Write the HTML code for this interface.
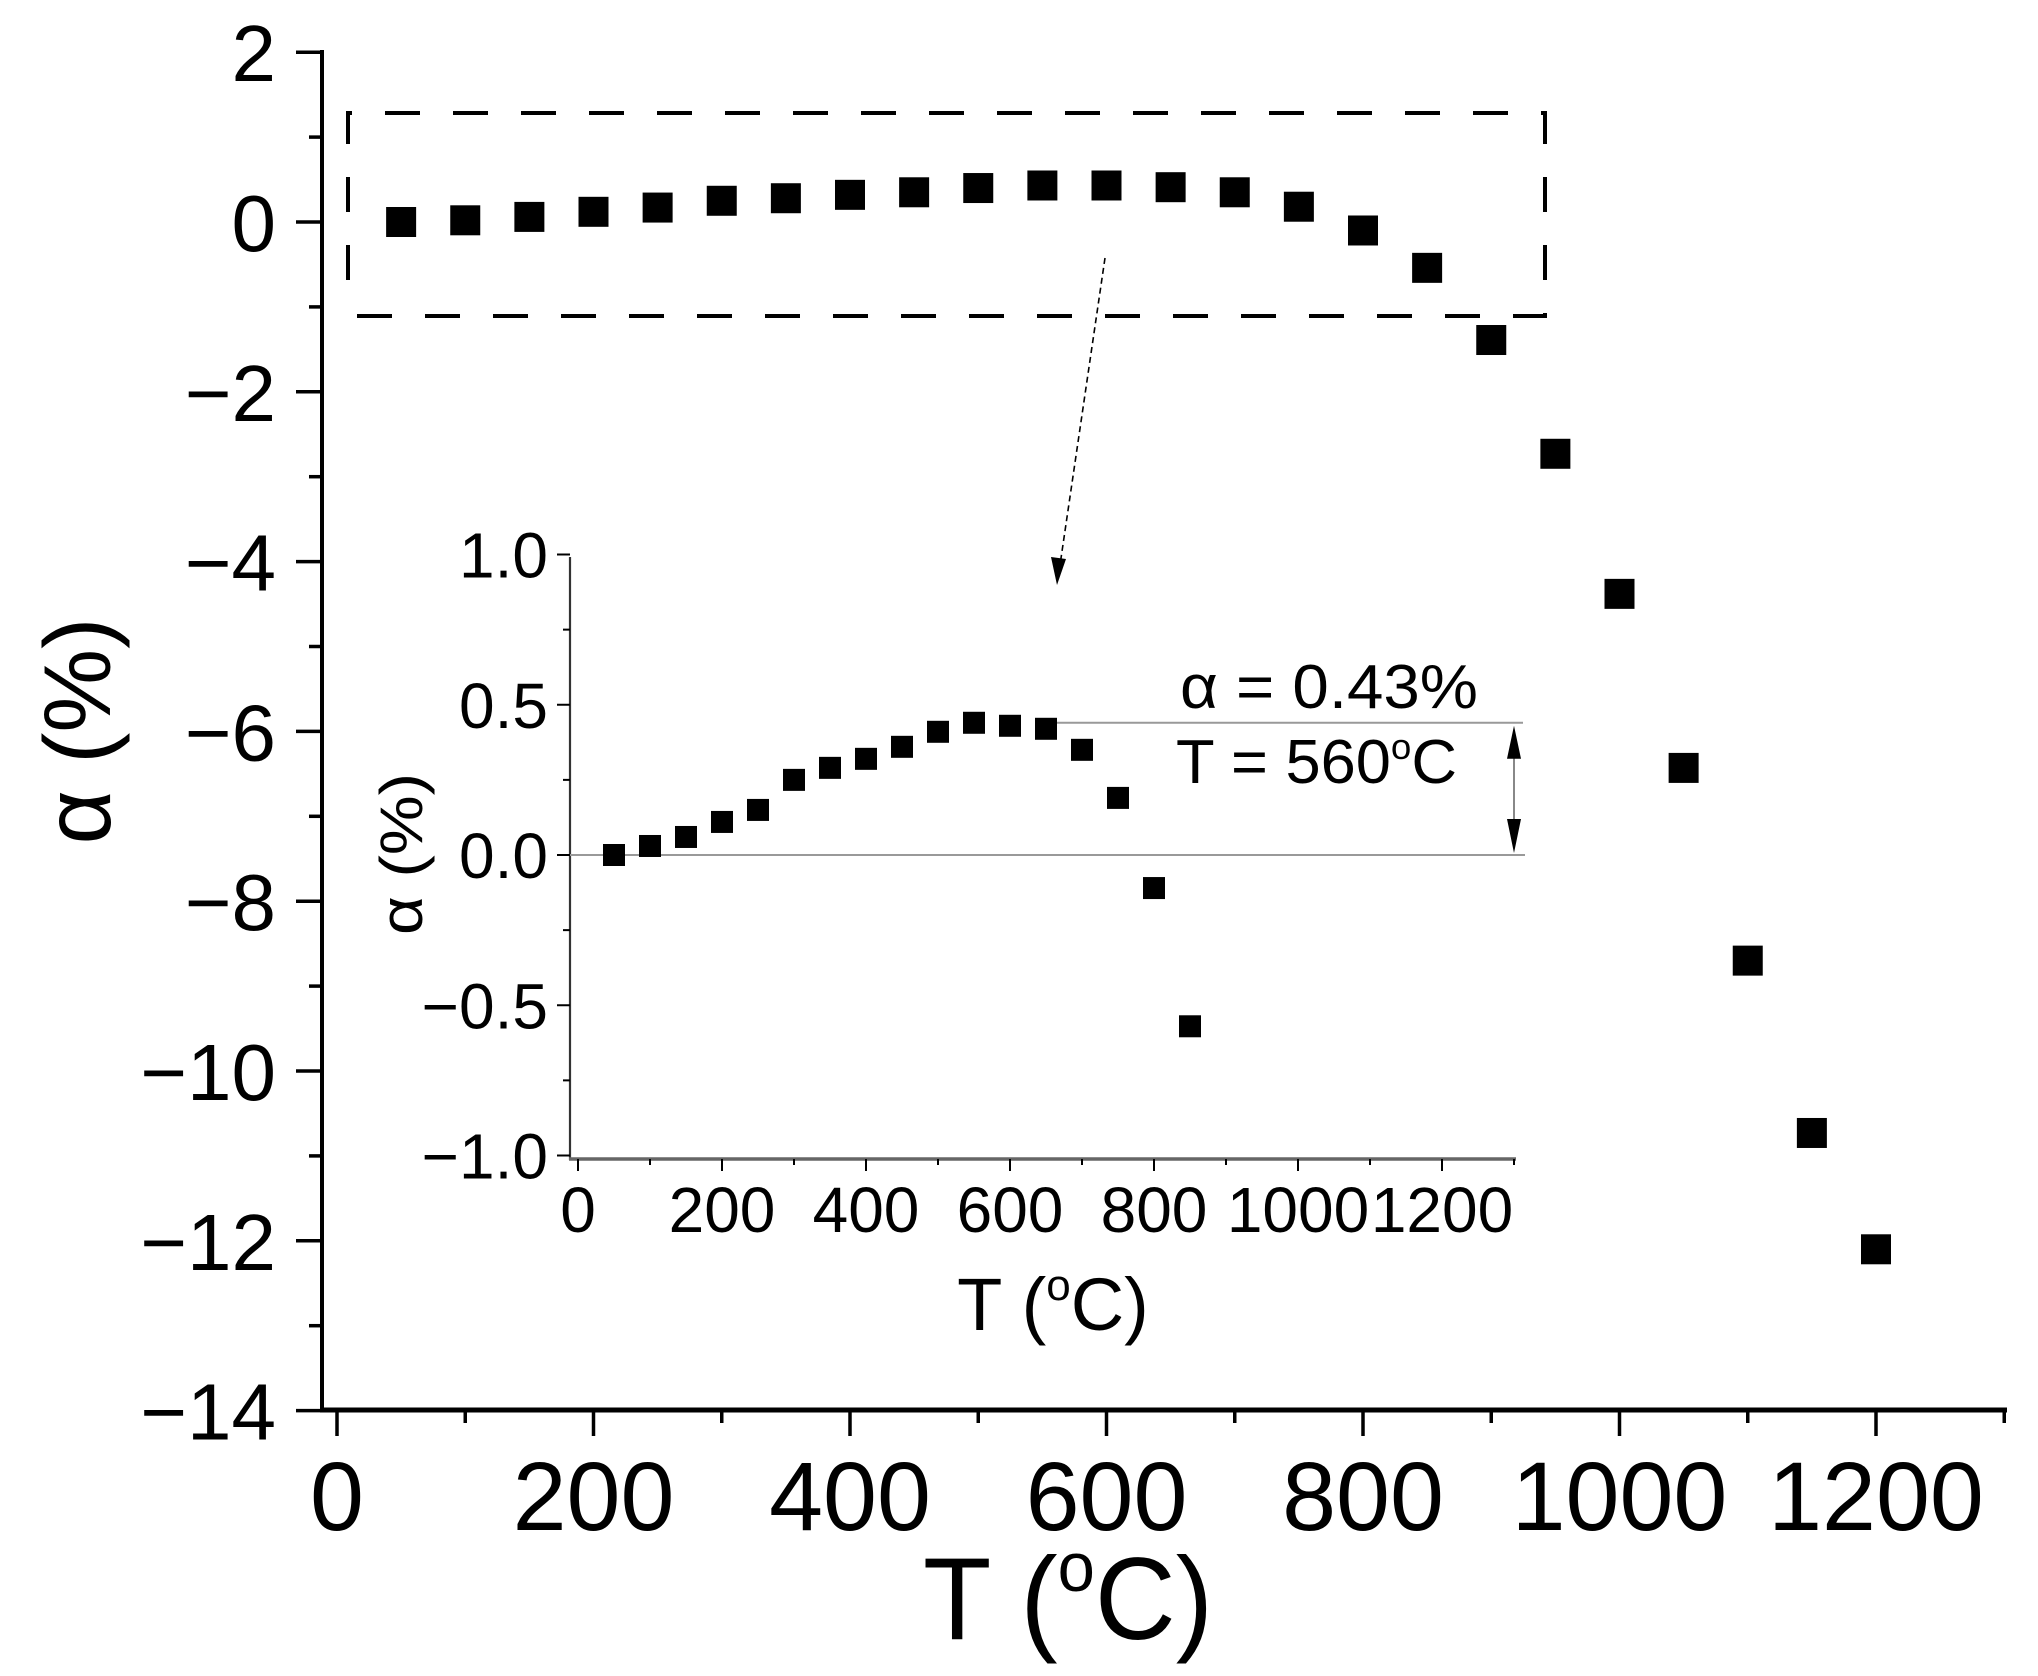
<!DOCTYPE html>
<html><head><meta charset="utf-8"><style>
html,body{margin:0;padding:0;background:#fff;}
svg{display:block;font-family:"Liberation Sans",sans-serif;}
</style></head><body>
<svg id="chart" width="2038" height="1676" viewBox="0 0 2038 1676" xmlns="http://www.w3.org/2000/svg">
<g id="main"></g>
<g id="inset"></g>
</svg>
<script>
// Main chart data
const mainT = [50,100,150,200,250,300,350,400,450,500,550,600,650,700,750,800,850,900,950,1000,1050,1100,1150,1200];
const mainAlpha = [0.0,0.02,0.06,0.12,0.17,0.25,0.28,0.32,0.35,0.40,0.43,0.43,0.41,0.35,0.18,-0.1,-0.54,-1.39,-2.73,-4.38,-6.43,-8.7,-10.73,-12.1];
const mainXTicks = [0,200,400,600,800,1000,1200];
const mainYTicks = [2,0,-2,-4,-6,-8,-10,-12,-14];
// Inset data
const insetT = [50,100,150,200,250,300,350,400,450,500,550,600,650,700,750,800,850];
const insetAlpha = [0.0,0.03,0.06,0.11,0.15,0.25,0.29,0.32,0.36,0.41,0.44,0.43,0.42,0.35,0.19,-0.11,-0.57];
const insetXTicks = [0,200,400,600,800,1000,1200];
const insetYTicks = [1.0,0.5,0.0,-0.5,-1.0];
const peakAlpha = [0.44];

const NS="http://www.w3.org/2000/svg";
function mk(parent,tag,attrs,text){const e=document.createElementNS(NS,tag);for(const k in attrs)e.setAttribute(k,attrs[k]);if(text!==undefined)e.textContent=text;parent.appendChild(e);return e;}
const fmtNeg=v=>v<0?'\u2212'+Math.abs(v):String(v);

// ---- main axes
const mx=v=>337+v*1.2825;
const my=v=>222-v*84.9;
const M=document.getElementById('main');
let e;
e=mk(M,'line',{x1:322,y1:50,x2:322,y2:1412,stroke:'#000','stroke-width':4});


e=mk(M,'line',{x1:320,y1:1410,x2:2007,y2:1410,stroke:'#000','stroke-width':5});


for(let v=2;v>=-14;v-=1){const major=(v%2===0);
 e=mk(M,'line',{x1:major?296:309,y1:my(v),x2:322,y2:my(v),stroke:'#000','stroke-width':3.5});
 
 }
mainYTicks.forEach(v=>{e=mk(M,'text',{x:276,y:my(v)+29,'font-size':80,'text-anchor':'end'},fmtNeg(v));
 
 });
for(let v=0;v<=1300;v+=100){const major=(v%200===0);
 e=mk(M,'line',{x1:mx(v),y1:1410,x2:mx(v),y2:major?1436:1423,stroke:'#000','stroke-width':3.5});
 
 }
mainXTicks.forEach(v=>{e=mk(M,'text',{x:mx(v),y:1530,'font-size':97,'text-anchor':'middle'},String(v));
 
 });
e=mk(M,'text',{x:1068,y:1639,'font-size':117,'text-anchor':'middle',textLength:290,lengthAdjust:'spacingAndGlyphs'},'');


e.innerHTML='T (<tspan font-size="70" dy="-48">o</tspan><tspan dy="48">C)</tspan>';
e=mk(M,'text',{x:0,y:0,'font-size':95,'text-anchor':'middle',transform:'translate(110,731) rotate(-90)',textLength:227,lengthAdjust:'spacingAndGlyphs'},'\u03b1 (%)');


e=mk(M,'path',{d:'M348,280 L348,113 L1545,113 L1545,316 L348,316',fill:'none',stroke:'#000','stroke-width':4,'stroke-dasharray':'35 33'});


mainT.forEach((t,i)=>{e=mk(M,'rect',{x:mx(t)-15,y:my(mainAlpha[i])-15,width:30,height:30,fill:'#000'});
 
 });
// arrow
e=mk(M,'line',{x1:1105,y1:258,x2:1060,y2:565,stroke:'#000','stroke-width':1.6,'stroke-dasharray':'6 4'});


e=mk(M,'path',{d:'M1057,585 L1051,557 L1066,559 Z',fill:'#000'});



// ---- inset
const ix=v=>578+v*0.72;
const iy=v=>855-v*300.5;
const I=document.getElementById('inset');
e=mk(I,'line',{x1:570,y1:557,x2:570,y2:1160,stroke:'#333','stroke-width':2.2});


e=mk(I,'line',{x1:569,y1:1159,x2:1516,y2:1159,stroke:'#666','stroke-width':3.5});


for(let k=4;k>=-4;k--){const v=k*0.25;const major=(k%2===0);
 e=mk(I,'line',{x1:major?557:563,y1:iy(v),x2:570,y2:iy(v),stroke:'#000','stroke-width':2});
 
 }
insetYTicks.forEach(v=>{e=mk(I,'text',{x:548,y:iy(v)+23,'font-size':64,'text-anchor':'end'},(v<0?'\u2212':'')+Math.abs(v).toFixed(1));
 
 });
for(let v=0;v<=1300;v+=100){const major=(v%200===0);
 e=mk(I,'line',{x1:ix(v),y1:1159,x2:ix(v),y2:major?1171:1165,stroke:'#000','stroke-width':2});
 
 }
insetXTicks.forEach(v=>{e=mk(I,'text',{x:ix(v),y:1232,'font-size':64,'text-anchor':'middle'},String(v));
 
 });
e=mk(I,'text',{x:1053,y:1330,'font-size':74,'text-anchor':'middle'},'');


e.innerHTML='T (<tspan font-size="44" dy="-30">o</tspan><tspan dy="30">C)</tspan>';
e=mk(I,'text',{x:0,y:0,'font-size':60,'text-anchor':'middle',transform:'translate(422,854) rotate(-90)',textLength:162,lengthAdjust:'spacingAndGlyphs'},'\u03b1 (%)');


// reference lines
e=mk(I,'line',{x1:570,y1:iy(0),x2:1525,y2:iy(0),stroke:'#999','stroke-width':2});


e=mk(I,'line',{x1:1048,y1:iy(peakAlpha[0]),x2:1523,y2:iy(peakAlpha[0]),stroke:'#999','stroke-width':2});


e=mk(I,'line',{x1:1514,y1:iy(peakAlpha[0])+10,x2:1514,y2:iy(0)-10,stroke:'#888','stroke-width':2});


e=mk(I,'path',{d:`M1514,${iy(peakAlpha[0])+3} L1507,${iy(peakAlpha[0])+36} L1521,${iy(peakAlpha[0])+36} Z M1514,${iy(0)-2} L1507,${iy(0)-36} L1521,${iy(0)-36} Z`,fill:'#000'});


e=mk(I,'text',{x:1180,y:708,'font-size':62,textLength:298,lengthAdjust:'spacingAndGlyphs'},'\u03b1 = 0.43%');


e=mk(I,'text',{x:1176,y:783,'font-size':62,textLength:281,lengthAdjust:'spacingAndGlyphs'},'');


e.innerHTML='T = 560<tspan font-size="36" dy="-24">o</tspan><tspan dy="24">C</tspan>';
insetT.forEach((t,i)=>{e=mk(I,'rect',{x:ix(t)-11,y:iy(insetAlpha[i])-11,width:22,height:22,fill:'#000'});
 
 });
</script>
</body></html>
